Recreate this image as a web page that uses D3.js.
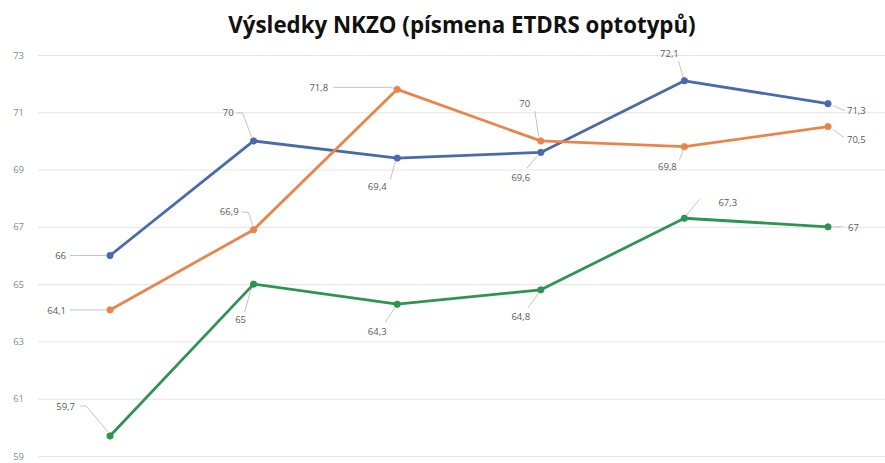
<!DOCTYPE html>
<html>
<head>
<meta charset="utf-8">
<script src="https://cdn.jsdelivr.net/npm/d3@7"></script>
<style>
html,body{margin:0;padding:0;background:#fff;}
svg{display:block;}
</style>
</head>
<body>
<svg id="chart" width="885" height="463"></svg>
<script>
// ---- data ----
const title = "Výsledky NKZO (písmena ETDRS optotypů)";
const categories = ["1", "2", "3", "4", "5", "6"];
const seriesBlue = [66, 70, 69.4, 69.6, 72.1, 71.3];
const seriesOrange = [64.1, 66.9, 71.8, 70, 69.8, 70.5];
const seriesGreen = [59.7, 65, 64.3, 64.8, 67.3, 67];
const yTicks = [59, 61, 63, 65, 67, 69, 71, 73];

// ---- layout / style (label placement relative to each point) ----
// [text dx, text dy, anchor, leader path points as [dx,dy] relative to point]
const blueLabels = [
  [-44, 0, "end", [[-40, 0], [-4, 0]]],
  [-20, -28, "end", [[-17, -28], [-11, -28], [-2, -4]]],
  [-20, 29, "middle", [[-7, 22], [-2, 4]]],
  [-20, 25, "middle", [[-14, 16], [-3, 3]]],
  [-15, -27, "middle", [[-6, -20], [-1, -3]]],
  [19, 7, "start", [[5, 2], [17, 7]]]
];
const orangeLabels = [
  [-44, 1, "end", [[-40, 0], [-4, 0]]],
  [-15, -18, "end", [[-12, -18], [-5, -17], [-1, -4]]],
  [-69, -2, "end", [[-64, -2], [-7, -2], [-3, -1]]],
  [-16, -37, "middle", [[-6, -30], [-2, -4]]],
  [-17, 20, "middle", [[-5, 13], [-1, 3]]],
  [19, 13, "start", [[5, 3], [16, 11]]]
];
const greenLabels = [
  [-35, -29, "end", [[-30, -30], [-24, -30], [-2, -4]]],
  [-13, 36, "middle", [[-9, 28], [-2, 3]]],
  [-20, 27, "middle", [[-12, 18], [-2, 3]]],
  [-20, 27, "middle", [[-13, 18], [-2, 3]]],
  [34, -16, "start", [[15, -19], [2, -3]]],
  [20, 1, "start", [[5, 0], [15, 0]]]
];

const series = [
  { values: seriesBlue, color: "#4a6aa9", labels: blueLabels },
  { values: seriesOrange, color: "#e9854c", labels: orangeLabels },
  { values: seriesGreen, color: "#2f9352", labels: greenLabels }
];

const svg = d3.select("#chart");
const W = 885, H = 463;

const x = d3.scalePoint().domain(categories).range([110, 828]);
const y = d3.scaleLinear().domain([59, 73]).range([456, 55]);

// title
svg.append("text")
  .attr("x", 462).attr("y", 33)
  .attr("text-anchor", "middle")
  .attr("font-family", "'Open Sans', sans-serif")
  .attr("font-weight", "bold")
  .attr("font-size", 22.3)
  .attr("fill", "#111")
  .text(title);

// gridlines + y labels via axis
const yAxis = d3.axisLeft(y).tickValues(yTicks).tickSize(-(W - 38)).tickPadding(14).tickFormat(d3.format("d"));
const gAxis = svg.append("g").attr("transform", "translate(38,0)").call(yAxis);
gAxis.select(".domain").remove();
gAxis.selectAll(".tick line").attr("stroke", "#e4e4e4").attr("stroke-width", 1);
gAxis.selectAll(".tick text")
  .attr("fill", "#8a8a8a")
  .attr("font-family", "'Open Sans', sans-serif")
  .attr("font-size", 9.5);

const line = d3.line()
  .x((d, i) => x(categories[i]))
  .y(d => y(d));

const fmt = v => String(v).replace(".", ",");

series.forEach(s => {
  // leader lines
  const gl = svg.append("g");
  s.values.forEach((v, i) => {
    const px = x(categories[i]), py = y(v);
    const L = s.labels[i];
    gl.append("polyline")
      .attr("points", L[3].map(p => (px + p[0]) + "," + (py + p[1])).join(" "))
      .attr("fill", "none")
      .attr("stroke", "#c4c4c4")
      .attr("stroke-width", 1);
  });

  svg.append("path")
    .datum(s.values)
    .attr("d", line)
    .attr("fill", "none")
    .attr("stroke", s.color)
    .attr("stroke-width", 2.8)
    .attr("stroke-linejoin", "round");

  svg.append("g").selectAll("circle")
    .data(s.values)
    .join("circle")
    .attr("cx", (d, i) => x(categories[i]))
    .attr("cy", d => y(d))
    .attr("r", 3.2)
    .attr("fill", s.color)
    .attr("stroke", s.color)
    .attr("stroke-width", 0.8);

  svg.append("g").selectAll("text")
    .data(s.values)
    .join("text")
    .attr("x", (d, i) => x(categories[i]) + s.labels[i][0])
    .attr("y", (d, i) => y(d) + s.labels[i][1])
    .attr("dy", "0.35em")
    .attr("text-anchor", (d, i) => s.labels[i][2])
    .attr("font-family", "'Open Sans', sans-serif")
    .attr("font-size", 9.5)
    .attr("fill", "#595959")
    .text(d => fmt(d));
});
</script>
</body>
</html>
